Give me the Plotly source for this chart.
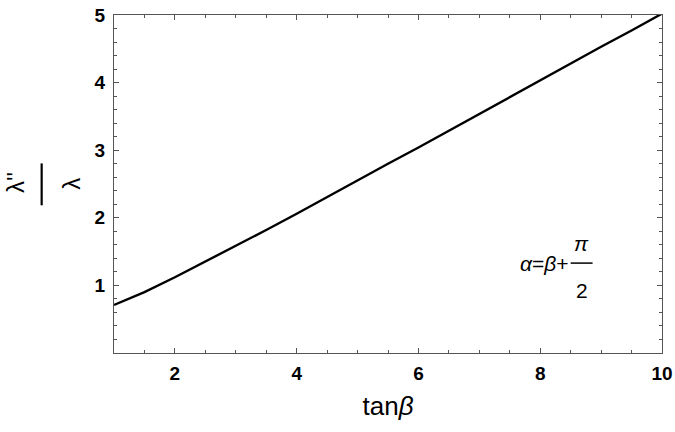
import plotly.graph_objects as go

# data
tan_beta = [1.0, 1.5, 2.0, 2.5, 3.0, 3.5, 4.0, 4.5, 5.0, 5.5, 6.0, 6.5, 7.0, 7.5, 8.0, 8.5, 9.0, 9.5, 10.0]
ratio = [0.71, 0.90, 1.12, 1.35, 1.58, 1.82, 2.06, 2.31, 2.55, 2.80, 3.04, 3.29, 3.54, 3.78, 4.03,
         4.28, 4.53, 4.77, 5.02]
x_ticks = [2, 4, 6, 8, 10]
y_ticks = [1, 2, 3, 4, 5]

AX = "#555555"
FONT = "Liberation Sans, Arial, sans-serif"
X_RANGE = [1, 10]
Y_RANGE = [0, 5]

fig = go.Figure()
fig.add_trace(go.Scatter(x=tan_beta, y=ratio, mode="lines",
                         line=dict(color="black", width=2.4, shape="linear"),
                         hoverinfo="skip", showlegend=False))
# invisible companion trace so that the top / right frame axes get drawn
fig.add_trace(go.Scatter(x=tan_beta, y=ratio, mode="lines", xaxis="x2", yaxis="y2",
                         line=dict(color="rgba(0,0,0,0)", width=0),
                         hoverinfo="skip", showlegend=False))

fig.update_layout(
    width=675, height=432,
    margin=dict(l=113.5, r=12.7, t=14.7, b=79.3),
    paper_bgcolor="white", plot_bgcolor="white",
    font=dict(family=FONT, color="black"),
    showlegend=False,
)
common = dict(ticks="inside", ticklen=5, tickwidth=1, tickcolor=AX, showgrid=False,
              zeroline=False, automargin=False)
fig.update_layout(
    xaxis=dict(range=X_RANGE, tickvals=x_ticks, showline=True, linecolor=AX, linewidth=1, mirror=True,
               tickfont=dict(size=19, family=FONT, weight="bold"), ticklabelstandoff=3,
               minor=dict(dtick=0.5, tick0=0, ticks="inside", ticklen=3, tickcolor=AX, showgrid=False),
               title=dict(text="tan<i>β</i>", font=dict(size=26, family=FONT), standoff=14), **common),
    yaxis=dict(range=Y_RANGE, tickvals=y_ticks, showline=True, linecolor=AX, linewidth=1, mirror=True,
               tickfont=dict(size=19, family=FONT, weight="bold"), ticklabelstandoff=4,
               minor=dict(dtick=0.2, tick0=0, ticks="inside", ticklen=3, tickcolor=AX, showgrid=False),
               **common),
    xaxis2=dict(range=X_RANGE, tickvals=x_ticks, overlaying="x", side="top", anchor="y",
                showticklabels=False, showline=False,
                minor=dict(dtick=0.5, tick0=0, ticks="inside", ticklen=3, tickcolor=AX, showgrid=False),
                **common),
    yaxis2=dict(range=Y_RANGE, tickvals=y_ticks, overlaying="y", side="right", anchor="x",
                showticklabels=False, showline=False,
                minor=dict(dtick=0.2, tick0=0, ticks="inside", ticklen=3, tickcolor=AX, showgrid=False),
                **common),
)

# y-axis title as a rotated fraction  λ'' / λ
fig.add_annotation(xref="paper", yref="paper", x=-0.181, y=0.505, text="λ''", textangle=-90,
                   showarrow=False, font=dict(size=24, family=FONT), xanchor="center", yanchor="middle")
fig.add_annotation(xref="paper", yref="paper", x=-0.079, y=0.5, text="λ", textangle=-90,
                   showarrow=False, font=dict(size=24, family=FONT), xanchor="center", yanchor="middle")
fig.add_shape(type="line", xref="paper", yref="paper", x0=-0.132, x1=-0.132,
              y0=0.437, y1=0.561, line=dict(color="black", width=2.2))

# in-plot label  α = β + π/2
fig.add_annotation(x=8.5, y=1.33, text="<i>α</i>=<i>β</i>+", showarrow=False,
                   xanchor="right", yanchor="middle", font=dict(size=21, family=FONT))
fig.add_annotation(x=8.68, y=1.62, text="<i>π</i>", showarrow=False,
                   xanchor="center", yanchor="middle", font=dict(size=21, family=FONT))
fig.add_annotation(x=8.68, y=0.93, text="2", showarrow=False,
                   xanchor="center", yanchor="middle", font=dict(size=21, family=FONT))
fig.add_shape(type="line", x0=8.5, x1=8.86, y0=1.33, y1=1.33, line=dict(color="black", width=1.5))

fig.write_html("out.html", config={"displayModeBar": False},
               post_script="document.body.style.margin='0';")
